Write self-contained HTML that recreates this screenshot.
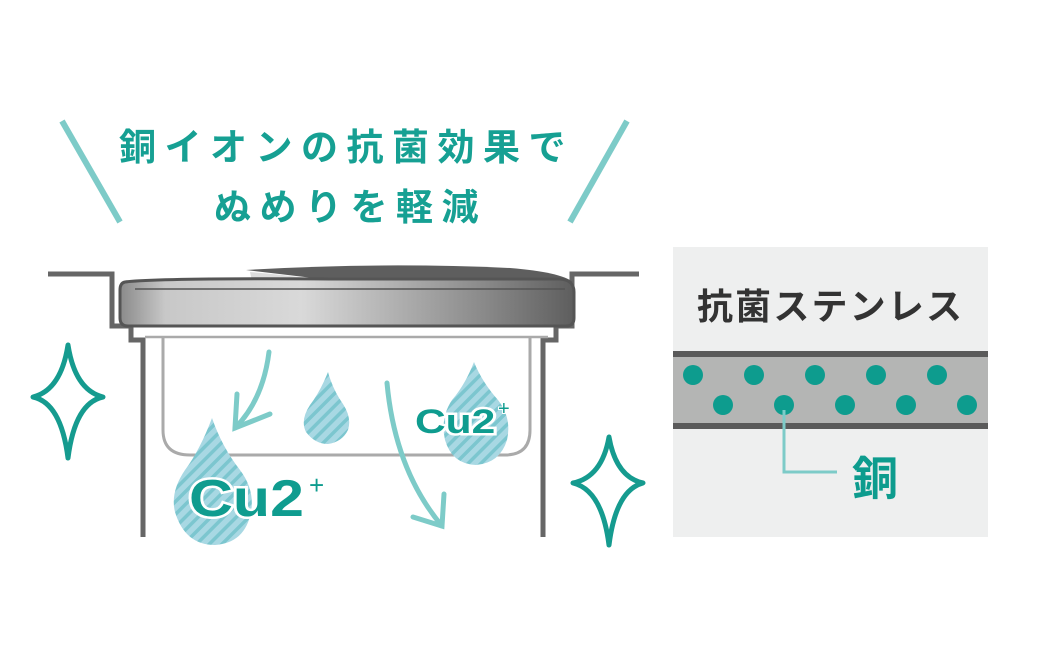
<!DOCTYPE html>
<html><head><meta charset="utf-8"><style>
html,body{margin:0;padding:0;background:#fff;}
svg{display:block;}
</style></head><body>
<svg width="1040" height="646" viewBox="0 0 1040 646" xmlns="http://www.w3.org/2000/svg">
<defs>
<linearGradient id="lid" x1="0" x2="1" y1="0" y2="0">
<stop offset="0" stop-color="#8a8a8a"/><stop offset="0.1" stop-color="#c8c8c8"/><stop offset="0.4" stop-color="#d9d9d9"/><stop offset="0.8" stop-color="#8a8a8a"/><stop offset="1" stop-color="#5e5e5e"/>
</linearGradient>
<pattern id="stripe" width="9" height="9" patternUnits="userSpaceOnUse" patternTransform="rotate(45)">
<rect width="9" height="9" fill="#a8d8e3"/><rect width="3.5" height="9" fill="#7cc6cf"/>
</pattern>
</defs>
<line x1="62" y1="121" x2="120" y2="222" stroke="#7dcbc8" stroke-width="6"/>
<line x1="627" y1="121" x2="570" y2="222" stroke="#7dcbc8" stroke-width="6"/>
<g font-family="'Liberation Sans','Noto Sans CJK JP',sans-serif" font-weight="bold" fill="#16a093" font-size="37">
<text x="119" y="160" letter-spacing="8.5">銅イオンの抗菌効果で</text>
<text x="214" y="220" letter-spacing="8.5">ぬめりを軽減</text>
</g>
<path d="M48 274 H112 V326 H131 V340 H143 V537" fill="none" stroke="#666" stroke-width="5"/>
<path d="M639 274 H572 V326 H556 V340 H543 V537" fill="none" stroke="#666" stroke-width="5"/>
<line x1="145" y1="337" x2="548" y2="337" stroke="#aaa" stroke-width="2.5"/>
<path d="M163 338 V430 Q163 455 190 455 H505 Q530 455 530 430 V338" fill="none" stroke="#aaa" stroke-width="3"/>
<path d="M246 270 Q380 262 510 268 Q560 272 573 282 L 330 280 Z" fill="#5e5e5e"/>
<path d="M250 272 Q300 276 330 282 L252 281 Z" fill="#ddd"/>
<path d="M125 282 Q160 278 330 279 L560 279 Q574 280 574 292 V318 Q574 326 566 326 H128 Q120 326 120 318 V290 Q120 283 125 282 Z" fill="url(#lid)" stroke="#555" stroke-width="3"/>
<line x1="135" y1="289" x2="565" y2="289" stroke="#555" stroke-width="1.5"/>
<path d="M212 418 Q200 450 185 470 Q170 492 175 512 Q185 545 215 545 Q245 543 251 512 Q255 490 240 470 Q222 447 212 418 Z" fill="url(#stripe)"/>
<path d="M328 372 Q320 392 310 405 Q300 420 306 432 Q315 444 328 444 Q342 442 348 430 Q352 418 343 404 Q333 390 328 372 Z" fill="url(#stripe)"/>
<path d="M474 362 Q465 385 452 400 Q440 418 445 440 Q452 464 476 465 Q500 463 507 440 Q512 418 498 400 Q482 382 474 362 Z" fill="url(#stripe)"/>
<g fill="none" stroke="#7dcbc8" stroke-width="5" stroke-linecap="round">
<path d="M269 352 Q263 400 235 428"/>
<path d="M237 394 L235 428 L270 414"/>
<path d="M387 383 Q395 470 442 526"/>
<path d="M413 517 L442 526 L444 494"/>
</g>
<g font-family="'Liberation Sans',sans-serif" font-weight="bold" fill="#0f9c8f" stroke="#fff" stroke-width="5" paint-order="stroke">
<text transform="translate(189 516) scale(1.17 1)" font-size="52">Cu2</text>
<text x="309" y="494" font-size="26" font-weight="normal" stroke-width="3">+</text>
<text transform="translate(415 433) scale(1.25 1)" font-size="34">Cu2</text>
<text x="498" y="415" font-size="20" font-weight="normal" stroke-width="2">+</text>
</g>
<g fill="none" stroke="#159b8f" stroke-width="5" stroke-linejoin="round">
<path d="M68 345 Q75 390 103 397 Q75 403 68 458 Q61 403 33 397 Q61 390 68 345 Z"/>
<path d="M609 437 Q616 477 643 483 Q616 490 609 545 Q602 490 573 483 Q602 477 609 437 Z"/>
</g>
<rect x="673" y="247" width="315" height="290" fill="#eeefef"/>
<text x="697" y="319" font-family="'Liberation Sans','Noto Sans CJK JP',sans-serif" font-weight="bold" font-size="36" fill="#333" textLength="265" lengthAdjust="spacing">抗菌ステンレス</text>
<rect x="673" y="357" width="315" height="66" fill="#b4b5b4"/>
<rect x="673" y="351" width="315" height="6" fill="#5a5a5a"/>
<rect x="673" y="423" width="315" height="6" fill="#5a5a5a"/>
<g fill="#0d9c8e">
<circle cx="693" cy="375" r="10"/><circle cx="754" cy="375" r="10"/><circle cx="815" cy="375" r="10"/><circle cx="876" cy="375" r="10"/><circle cx="937" cy="375" r="10"/>
<circle cx="723" cy="405" r="10"/><circle cx="784" cy="405" r="10"/><circle cx="845" cy="405" r="10"/><circle cx="906" cy="405" r="10"/><circle cx="967" cy="405" r="10"/>
</g>
<path d="M784 410 V472 H837" fill="none" stroke="#7dcbc8" stroke-width="3"/>
<text x="852" y="495" font-family="'Liberation Sans','Noto Sans CJK JP',sans-serif" font-weight="bold" font-size="46" fill="#0d9c8e">銅</text>
</svg>
</body></html>
